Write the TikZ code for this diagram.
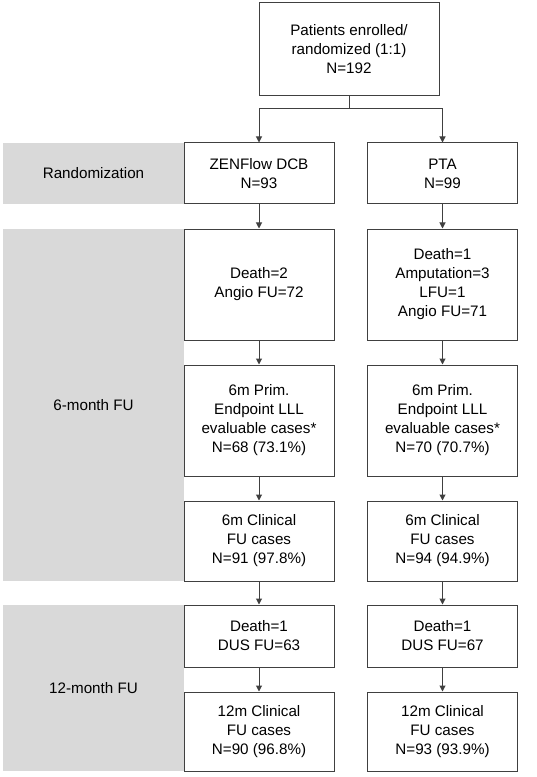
\documentclass[tikz,border=0pt]{standalone}
\usepackage{fontspec}
\setmainfont{Liberation Sans}
\usetikzlibrary{arrows.meta}
\begin{document}
\begin{tikzpicture}[x=.75pt,y=-.75pt,>={Triangle[length=4.5pt,width=4.5pt]},font=\fontsize{11.4}{14.25}\selectfont,line width=.75pt,
	box/.style={draw=black!75,fill=white,align=center,inner sep=2pt,minimum width=150*.75pt},
	band/.style={fill=black!15,align=center,inner sep=0pt,minimum width=181*.75pt}]
	\def\xl{259} \def\xr{442.5} % column centres
	\useasboundingbox (0,0) rectangle (536,777);
	% grey bands
	\node[band,minimum height=61*.75pt] (randlbl) at (93.5,173.5) {Randomization};
	\node[band,minimum height=352*.75pt] (sixlbl) at (93.5,405) {6-month FU};
	\node[band,minimum height=166*.75pt] (twelvelbl) at (93.5,688) {12-month FU};
	% boxes
	\node[box,minimum width=180*.75pt,minimum height=93*.75pt] (enrol) at (349,49.5) {Patients enrolled/\\randomized (1:1)\\N=192};
	\node[box,minimum height=61*.75pt] (dcbrand) at (\xl,173.5) {ZENFlow DCB\\N=93};
	\node[box,minimum height=61*.75pt] (ptarand) at (\xr,173.5) {PTA\\N=99};
	\node[box,minimum height=111*.75pt] (dcbsix) at (\xl,284.5) {Death=2\\Angio FU=72};
	\node[box,minimum height=111*.75pt] (ptasix) at (\xr,284.5) {Death=1\\Amputation=3\\LFU=1\\Angio FU=71};
	\node[box,minimum height=111*.75pt] (dcblll) at (\xl,420.5) {6m Prim.\\Endpoint LLL\\evaluable cases*\\N=68 (73.1\%)};
	\node[box,minimum height=111*.75pt] (ptalll) at (\xr,420.5) {6m Prim.\\Endpoint LLL\\evaluable cases*\\N=70 (70.7\%)};
	\node[box,minimum height=80*.75pt] (dcbclin) at (\xl,541) {6m Clinical\\FU cases\\N=91 (97.8\%)};
	\node[box,minimum height=80*.75pt] (ptaclin) at (\xr,541) {6m Clinical\\FU cases\\N=94 (94.9\%)};
	\node[box,minimum height=62*.75pt] (dcbtwelve) at (\xl,636) {Death=1\\DUS FU=63};
	\node[box,minimum height=62*.75pt] (ptatwelve) at (\xr,636) {Death=1\\DUS FU=67};
	\node[box,minimum height=79*.75pt] (dcbyear) at (\xl,731.5) {12m Clinical\\FU cases\\N=90 (96.8\%)};
	\node[box,minimum height=79*.75pt] (ptayear) at (\xr,731.5) {12m Clinical\\FU cases\\N=93 (93.9\%)};
	% arrows
	\coordinate (split) at (349,109);
	\draw[black!75] (enrol) -- (split);
	\draw[black!75,->] (split) -| (dcbrand);
	\draw[black!75,->] (split) -| (ptarand);
	\foreach \c in {dcb,pta}
	\foreach \a/\b in {rand/six,six/lll,lll/clin,clin/twelve,twelve/year}
	\draw[black!75,->] (\c\a) -- (\c\b);
\end{tikzpicture}
\end{document}
